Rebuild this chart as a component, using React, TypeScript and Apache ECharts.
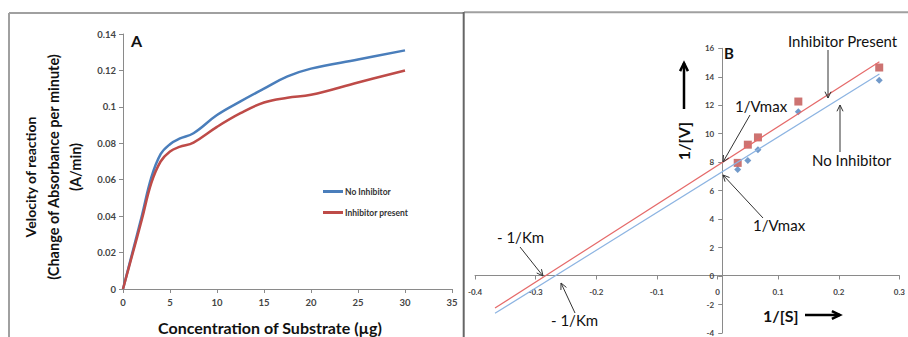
import React, { useEffect, useRef } from "react";
import * as echarts from "echarts";

// ---- Panel A: Michaelis–Menten curves ----
const substrateA = [0, 1, 2, 3, 4, 5, 6, 7.5, 10, 12.5, 15, 17.5, 20, 25, 30];
const velocityNoInhibitor = [0, 0.02, 0.04, 0.061, 0.074, 0.0795, 0.0825, 0.0855, 0.0955, 0.103, 0.11, 0.1167, 0.121, 0.126, 0.131];
const velocityInhibitor = [0, 0.019, 0.038, 0.058, 0.070, 0.0755, 0.078, 0.0804, 0.089, 0.0965, 0.1024, 0.105, 0.1066, 0.1134, 0.12];

// ---- Panel B: Lineweaver–Burk ----
const invSubstrate = [0.0333, 0.05, 0.0667, 0.1333, 0.2667];
const invVNoInhibitor = [7.49, 8.11, 8.88, 11.55, 13.75];
const invVInhibitor = [7.95, 9.23, 9.74, 12.26, 14.65];
const trendX = [-0.367, 0.267];
const trendNoInhibitor = [-2.62, 14.2];
const trendInhibitor = [-2.25, 15.05];

const BLUE = "#4A7EBB";
const RED = "#BE4B48";
const FONT = "Lato";

const zip = (xs: number[], ys: number[]) => xs.map((x, i) => [x, ys[i]]);

function arrow(x1: number, y1: number, x2: number, y2: number, w: number, len: number, color: string) {
  const a = Math.atan2(y2 - y1, x2 - x1);
  const s = 0.45;
  return [
    { type: "line", z: 100, shape: { x1, y1, x2, y2 }, style: { stroke: color, lineWidth: w } },
    {
      type: "polyline",
      z: 100,
      shape: {
        points: [
          [x2 - len * Math.cos(a - s), y2 - len * Math.sin(a - s)],
          [x2, y2],
          [x2 - len * Math.cos(a + s), y2 - len * Math.sin(a + s)],
        ],
      },
      style: { stroke: color, lineWidth: w, fill: null },
    },
  ];
}

function txt(text: string, x: number, y: number, size: number, opts: any = {}) {
  return {
    type: "text",
    z: 100,
    x,
    y,
    rotation: opts.rotation || 0,
    style: {
      text,
      fontSize: size,
      fontFamily: FONT,
      fontWeight: opts.bold ? "bold" : "normal",
      fill: opts.color || "#111",
      align: opts.align || "left",
      verticalAlign: "middle",
    },
  };
}

function hline(x1: number, y1: number, x2: number, y2: number, color: string, w: number) {
  return { type: "line", z: 90, shape: { x1, y1, x2, y2 }, style: { stroke: color, lineWidth: w } };
}

// right grid geometry
const B_LEFT = 475;
const B_TOP = 48.3;
const B_W = 432.6;
const B_H = 287.5;

export default function App() {
  const ref = useRef<HTMLDivElement>(null);
  useEffect(() => {
    if (!ref.current) return;
    const chart = echarts.init(ref.current, null, { renderer: "svg" });
    const labelA = { fontSize: 9.5, color: "#444", fontFamily: FONT, fontWeight: "bold" as const };
    const labelB = { fontSize: 8, color: "#444", fontFamily: FONT, fontWeight: "bold" as const };
    const axisLine = { lineStyle: { color: "#8a8a8a", width: 1 } };
    const axisTick = { show: true, length: 4, lineStyle: { color: "#8a8a8a" } };
    // axis crossing positions inside grid B (x=0 and y=0)
    const xZeroOffset = (0.4 / 0.7) * B_W; // px from grid left to x=0
    const yZeroOffset = (4 / 20) * B_H; // px from grid bottom to y=0
    chart.setOption({
      animation: false,
      backgroundColor: "#fff",
      grid: [
        { left: 123, top: 34, width: 329, height: 255 },
        { left: B_LEFT, top: B_TOP, width: B_W, height: B_H },
      ],
      xAxis: [
        {
          gridIndex: 0, type: "value", min: 0, max: 35, interval: 5,
          axisLine: { ...axisLine, onZero: false }, axisTick, splitLine: { show: false },
          axisLabel: { ...labelA, margin: 8 },
        },
        {
          gridIndex: 1, type: "value", min: -0.4, max: 0.3, interval: 0.1,
          position: "bottom", offset: -yZeroOffset,
          axisLine: { ...axisLine, onZero: false }, axisTick, splitLine: { show: false },
          axisLabel: { ...labelB, margin: 12, formatter: (v: number) => String(Math.round(v * 10) / 10) },
        },
      ],
      yAxis: [
        {
          gridIndex: 0, type: "value", min: 0, max: 0.14, interval: 0.02,
          axisLine: { ...axisLine, onZero: false }, axisTick, splitLine: { show: false },
          axisLabel: { ...labelA, margin: 7, formatter: (v: number) => String(Math.round(v * 100) / 100) },
        },
        {
          gridIndex: 1, type: "value", min: -4, max: 16, interval: 2,
          position: "left", offset: -xZeroOffset,
          axisLine: { ...axisLine, onZero: false }, axisTick, splitLine: { show: false },
          axisLabel: { ...labelB, margin: 8 },
        },
      ],
      legend: {
        data: ["No Inhibitor", "Inhibitor present"],
        orient: "vertical",
        left: 318,
        top: 182,
        itemGap: 12,
        itemWidth: 20,
        itemHeight: 3,
        icon: "rect",
        textStyle: { fontSize: 8.5, color: "#333", fontFamily: FONT, fontWeight: "bold", padding: [0, 0, 0, -3] },
      },
      series: [
        {
          name: "No Inhibitor", type: "line", xAxisIndex: 0, yAxisIndex: 0,
          data: zip(substrateA, velocityNoInhibitor), smooth: 0.4, showSymbol: false,
          lineStyle: { color: BLUE, width: 2.5 }, itemStyle: { color: BLUE },
        },
        {
          name: "Inhibitor present", type: "line", xAxisIndex: 0, yAxisIndex: 0,
          data: zip(substrateA, velocityInhibitor), smooth: 0.4, showSymbol: false,
          lineStyle: { color: RED, width: 2.5 }, itemStyle: { color: RED },
        },
        {
          name: "trend no", type: "line", xAxisIndex: 1, yAxisIndex: 1,
          data: zip(trendX, trendNoInhibitor), showSymbol: false,
          lineStyle: { color: "#8DB4E2", width: 1.2 },
        },
        {
          name: "trend inh", type: "line", xAxisIndex: 1, yAxisIndex: 1,
          data: zip(trendX, trendInhibitor), showSymbol: false,
          lineStyle: { color: "#E56A6A", width: 1.2 },
        },
        {
          name: "1/V no", type: "scatter", xAxisIndex: 1, yAxisIndex: 1,
          data: zip(invSubstrate, invVNoInhibitor), symbol: "diamond", symbolSize: 7,
          itemStyle: { color: "#4F81BD" },
        },
        {
          name: "1/V inh", type: "scatter", xAxisIndex: 1, yAxisIndex: 1,
          data: zip(invSubstrate, invVInhibitor), symbol: "rect", symbolSize: 8,
          itemStyle: { color: "#C0504D" },
        },
      ],
      graphic: [
        // panel borders
        hline(9, 13, 463, 13, "#a0a0a0", 2),
        hline(9, 13, 9, 337, "#a0a0a0", 2),
        hline(464, 12.3, 908, 12.3, "#a0a0a0", 2),
        hline(463.7, 12, 463.7, 337, "#666", 2),
        // panel A texts
        txt("A", 131, 40, 16, { bold: true }),
        txt("Velocity of reaction", 30, 177, 14, { bold: true, align: "center", rotation: Math.PI / 2 }),
        txt("(Change of Absorbance per minute)", 53, 167, 14.5, { bold: true, align: "center", rotation: Math.PI / 2 }),
        txt("(A/min)", 75, 167, 14.5, { bold: true, align: "center", rotation: Math.PI / 2 }),
        txt("Concentration of Substrate (\u00b5g)", 270, 327, 16, { bold: true, align: "center" }),
        // panel B texts
        txt("B", 724, 53, 15, { bold: true }),
        txt("Inhibitor Present", 788, 41, 15),
        txt("No Inhibitor", 812, 160, 15),
        txt("1/Vmax", 735, 106, 15),
        txt("1/Vmax", 753, 225, 15),
        txt("- 1/Km", 497, 237, 15),
        txt("- 1/Km", 551, 320, 15),
        txt("1/[S]", 763, 315, 16, { bold: true }),
        txt("1/[V]", 683, 141, 16, { bold: true, align: "center", rotation: Math.PI / 2 }),
        ...arrow(805, 315, 840, 315, 2.5, 9, "#000"),
        ...arrow(684, 109, 684, 63, 2.5, 9, "#000"),
        ...arrow(828, 50, 828, 98, 1, 7, "#333"),
        ...arrow(840, 152, 840, 105, 1, 7, "#333"),
        ...arrow(750, 115, 723, 162, 1, 7, "#333"),
        ...arrow(763, 218, 723, 175, 1, 7, "#333"),
        ...arrow(520, 247, 543, 276, 1, 7, "#333"),
        ...arrow(575, 313, 561, 283, 1, 7, "#333"),
      ],
    });
    return () => chart.dispose();
  }, []);
  return (
    <div
      ref={ref}
      style={{ position: "fixed", left: 0, top: 0, width: 908, height: 337, background: "#fff" }}
    />
  );
}
